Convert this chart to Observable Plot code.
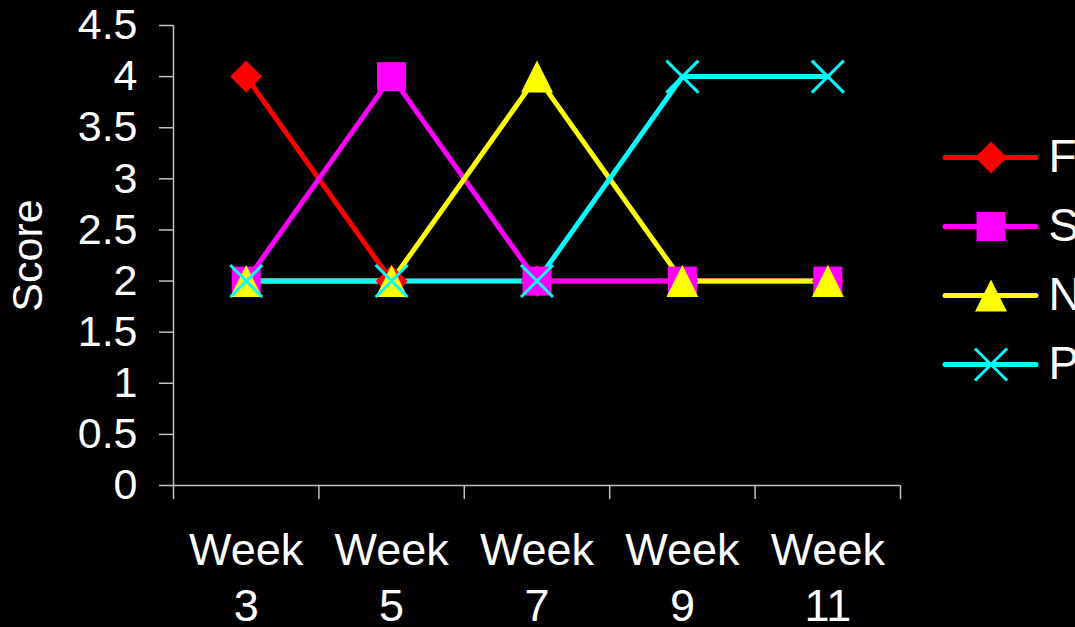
<!DOCTYPE html>
<html>
<head>
<meta charset="utf-8">
<script src="https://cdn.jsdelivr.net/npm/d3@7"></script>
<script src="https://cdn.jsdelivr.net/npm/@observablehq/plot@0.6"></script>
<style>
  html, body { margin: 0; padding: 0; background: #000; }
  #chart { position: relative; width: 1075px; height: 627px; background: #000; color: #fff;
           font-family: Arial, "Liberation Sans", sans-serif; }
  #chart > svg { position: absolute; top: 0; }
</style>
</head>
<body>
<div id="chart"></div>
<script>
// Weekly scores for the four series
const weeks = [3, 5, 7, 9, 11];
const seriesNames = ["F", "S", "N", "P"];
const seriesColors = ["#ff0000", "#ff00ff", "#ffff00", "#00ffff"];
const scoresF = [4, 2, 2, 2, 2];
const scoresS = [2, 4, 2, 2, 2];
const scoresN = [2, 2, 4, 2, 2];
const scoresP = [2, 2, 2, 4, 4];
const yTicks = [0, 0.5, 1, 1.5, 2, 2.5, 3, 3.5, 4, 4.5];
const weekBoundaries = [2, 4, 6, 8, 10, 12];

const seriesScores = [scoresF, scoresS, scoresN, scoresP];
const rows = seriesNames.flatMap((name, i) =>
  weeks.map((w, j) => ({series: name, week: w, score: seriesScores[i][j]})));

// Marker shapes; the half-extent follows the dot radius (size = πr²)
const half = size => Math.sqrt(size / Math.PI);
const diamond = {draw(c, s) { const h = half(s); c.moveTo(0, -h); c.lineTo(h, 0); c.lineTo(0, h); c.lineTo(-h, 0); c.closePath(); }};
const square = {draw(c, s) { const h = half(s); c.rect(-h, -h, 2 * h, 2 * h); }};
const triangle = {draw(c, s) { const h = half(s); c.moveTo(0, -h); c.lineTo(h, h); c.lineTo(-h, h); c.closePath(); }};
const cross = {draw(c, s) { const h = half(s); c.moveTo(-h, -h); c.lineTo(h, h); c.moveTo(h, -h); c.lineTo(-h, h); }};
const markers = [
  {symbol: diamond, r: 16, filled: true},
  {symbol: square, r: 14.5, filled: true},
  {symbol: triangle, r: 16, filled: true},
  {symbol: cross, r: 16, filled: false}
];

const font = 'Arial, "Liberation Sans", sans-serif';
const axisGray = "#c0c0c0";

function markerMarks(data, i, opts) {
  const m = markers[i];
  return Plot.dot(data.filter(d => d.series === seriesNames[i]), {
    ...opts,
    symbol: m.symbol,
    r: m.r,
    fill: m.filled ? seriesColors[i] : "none",
    stroke: seriesColors[i],
    strokeWidth: m.filled ? 0 : 3
  });
}

const main = Plot.plot({
  width: 1075,
  height: 627,
  marginLeft: 173,
  marginRight: 175,
  marginTop: 25,
  marginBottom: 142,
  style: {background: "transparent", color: "#fff", fontFamily: font, overflow: "visible"},
  x: {type: "linear", domain: [2, 12], axis: null},
  y: {domain: [0, 4.5], axis: null},
  color: {domain: seriesNames, range: seriesColors},
  marks: [
    Plot.ruleX([2], {stroke: axisGray, strokeWidth: 1.5}),
    Plot.ruleY([0], {stroke: axisGray, strokeWidth: 1.5}),
    Plot.axisY({ticks: yTicks, tickSize: 14, tickPadding: 22, tickFormat: d => String(d), label: null,
                stroke: axisGray, fill: "#fff", fontSize: 43, strokeWidth: 1.5}),
    Plot.axisX({ticks: weekBoundaries, tickSize: 14, tickFormat: () => "", label: null,
                stroke: axisGray, strokeWidth: 1.5}),
    Plot.axisX({ticks: weeks, tickSize: 0, tickPadding: 40, tickFormat: d => `Week\n${d}`, label: null,
                fill: "#fff", fontSize: 45, lineHeight: 1.24}),
    Plot.text(["Score"], {frameAnchor: "left", textAnchor: "middle", lineAnchor: "middle",
                          rotate: -90, dx: -145, fontSize: 43, fill: "#fff"}),
    Plot.line(rows, {x: "week", y: "score", z: "series", stroke: "series", strokeWidth: 5,
                     strokeLinecap: "round", strokeLinejoin: "round"}),
    ...seriesNames.map((_, i) => markerMarks(rows, i, {x: "week", y: "score"}))
  ]
});

// Legend to the right of the plot area
const legendRows = seriesNames.map(name => ({series: name}));
const legend = Plot.plot({
  width: 175,
  height: 627,
  margin: 0,
  style: {background: "transparent", color: "#fff", fontFamily: font, overflow: "visible"},
  x: {domain: [0, 1], range: [45, 136], axis: null},
  y: {type: "point", domain: seriesNames, range: [157, 364], padding: 0, axis: null},
  color: {domain: seriesNames, range: seriesColors},
  marks: [
    Plot.ruleY(legendRows, {y: "series", x1: 0, x2: 1, stroke: "series", strokeWidth: 5, strokeLinecap: "round"}),
    ...seriesNames.map((_, i) => markerMarks(legendRows.map(d => ({...d, pos: 0.5})), i, {x: "pos", y: "series"})),
    Plot.text(legendRows, {x: 1, y: "series", text: "series", dx: 12, textAnchor: "start",
                           fontSize: 46, fill: "#fff"})
  ]
});

const chart = document.getElementById("chart");
main.style.left = "0px";
legend.style.left = "900px";
chart.appendChild(main);
chart.appendChild(legend);
</script>
</body>
</html>
